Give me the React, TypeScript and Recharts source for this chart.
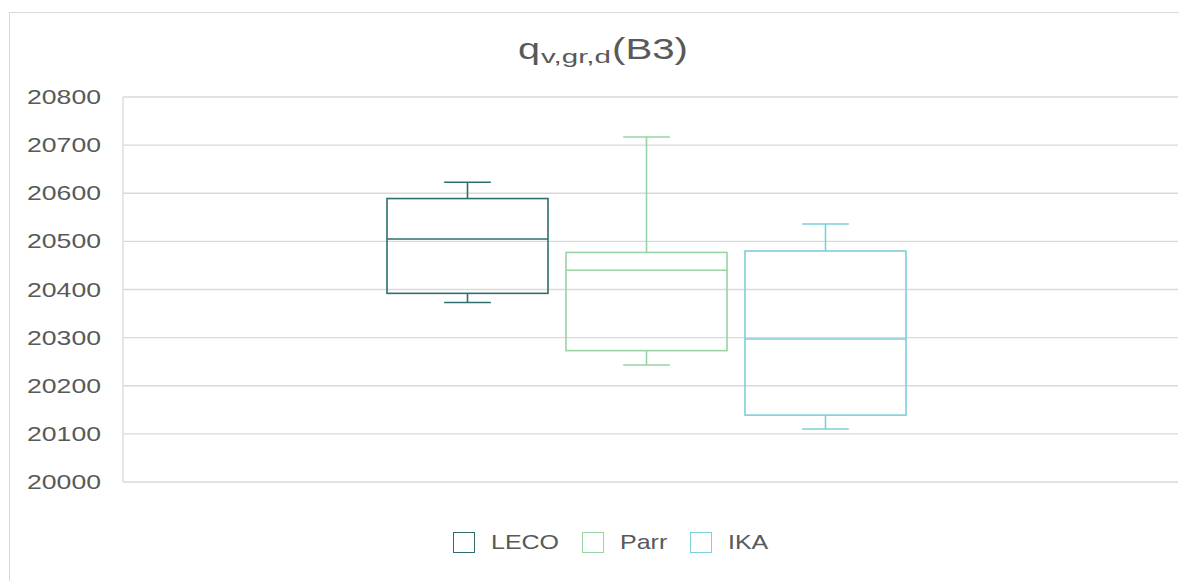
import React from "react";
import { ComposedChart, Bar, XAxis, YAxis, CartesianGrid, Customized } from "recharts";

const categories = ["B3"];
const seriesNames = ["LECO", "Parr", "IKA"];
const seriesColors = ["#2f6f6b", "#98d4a4", "#7dcfd9"];
const minValues = [20373, 20243, 20110];
const q1Values = [20392, 20273, 20139];
const medianValues = [20505, 20440, 20297];
const q3Values = [20589, 20477, 20480];
const maxValues = [20623, 20717, 20536];
const yTicks = [20000, 20100, 20200, 20300, 20400, 20500, 20600, 20700, 20800];

const data = categories.map((c) => {
  const row: Record<string, any> = { cat: c };
  seriesNames.forEach((s, i) => {
    row[s] = [minValues[i], maxValues[i]];
  });
  return row;
});

const FONT = "'Liberation Sans', Arial, sans-serif";
const TEXT_COLOR = "#595959";

function makeBoxShape(i: number) {
  return (props: any) => {
    const { x, y, width, height } = props;
    const top = Math.min(y, y + height);
    const h = Math.abs(height);
    const lo = minValues[i];
    const hi = maxValues[i];
    const py = (v: number) => top + (h * (hi - v)) / (hi - lo);
    const color = seriesColors[i];
    const cx = x + width / 2;
    const cap = width * 0.29;
    const sw = 1.6;
    return (
      <g>
        <line x1={cx} x2={cx} y1={py(maxValues[i])} y2={py(q3Values[i])} stroke={color} strokeWidth={sw} />
        <line x1={cx} x2={cx} y1={py(q1Values[i])} y2={py(minValues[i])} stroke={color} strokeWidth={sw} />
        <line x1={cx - cap / 2} x2={cx + cap / 2} y1={py(maxValues[i])} y2={py(maxValues[i])} stroke={color} strokeWidth={sw} />
        <line x1={cx - cap / 2} x2={cx + cap / 2} y1={py(minValues[i])} y2={py(minValues[i])} stroke={color} strokeWidth={sw} />
        <rect
          x={x}
          y={py(q3Values[i])}
          width={width}
          height={py(q1Values[i]) - py(q3Values[i])}
          fill="none"
          stroke={color}
          strokeWidth={sw}
        />
        <line x1={x} x2={x + width} y1={py(medianValues[i])} y2={py(medianValues[i])} stroke={color} strokeWidth={sw} />
      </g>
    );
  };
}

const YTick = (props: any) => {
  const { x, y, payload } = props;
  return (
    <text
      x={x}
      y={y}
      dy={7}
      textAnchor="end"
      fontFamily={FONT}
      fontSize={21}
      fill={TEXT_COLOR}
      textLength={74}
      lengthAdjust="spacingAndGlyphs"
    >
      {payload.value}
    </text>
  );
};

const Title = () => (
  <g fill={TEXT_COLOR} fontFamily={FONT}>
    <text x={510} y={51} fontSize={29} textLength={22} lengthAdjust="spacingAndGlyphs">q</text>
    <text x={533} y={55} fontSize={18} textLength={70} lengthAdjust="spacingAndGlyphs">v,gr,d</text>
    <text x={604} y={51} fontSize={29} textLength={76} lengthAdjust="spacingAndGlyphs">(B3)</text>
  </g>
);

const legendX = [445, 574, 682];

export default function App() {
  return (
    <div style={{ position: "relative", width: 1179, height: 573 }}>
      <div
        style={{
          position: "absolute",
          left: 1,
          top: 4,
          width: 1178,
          height: 569,
          borderLeft: "1px solid #d9d9d9",
          borderTop: "1px solid #d9d9d9",
          boxSizing: "border-box",
        }}
      />
      <div style={{ position: "absolute", left: 0, top: 0 }}>
        <ComposedChart
          width={1179}
          height={573}
          data={data}
          margin={{ top: 89, right: 9, bottom: 99, left: 0 }}
          barGap={18}
          barSize={161}
        >
          <CartesianGrid vertical={false} stroke="#d9d9d9" strokeWidth={1.3} />
          <XAxis dataKey="cat" hide padding={{ left: 0, right: 8 }} />
          <YAxis
            width={115}
            domain={[20000, 20800]}
            ticks={yTicks}
            interval={0}
            tickLine={false}
            tickSize={0}
            tickMargin={22}
            axisLine={{ stroke: "#d9d9d9", strokeWidth: 1.3 }}
            tick={<YTick />}
          />
          {seriesNames.map((s, i) => (
            <Bar key={s} dataKey={s} isAnimationActive={false} shape={makeBoxShape(i)} />
          ))}
          <Customized component={Title} />
        </ComposedChart>
      </div>
      {seriesNames.map((s, i) => (
        <div
          key={s}
          style={{
            position: "absolute",
            left: legendX[i],
            top: 522,
            display: "flex",
            alignItems: "center",
            fontFamily: FONT,
            fontSize: 21,
            color: TEXT_COLOR,
            whiteSpace: "nowrap",
          }}
        >
          <div
            style={{
              width: 22,
              height: 21,
              border: `1.6px solid ${seriesColors[i]}`,
              boxSizing: "border-box",
              marginRight: 16,
            }}
          />
          <span style={{ display: "inline-block", transform: "scaleX(1.19)", transformOrigin: "left center" }}>{s}</span>
        </div>
      ))}
    </div>
  );
}
